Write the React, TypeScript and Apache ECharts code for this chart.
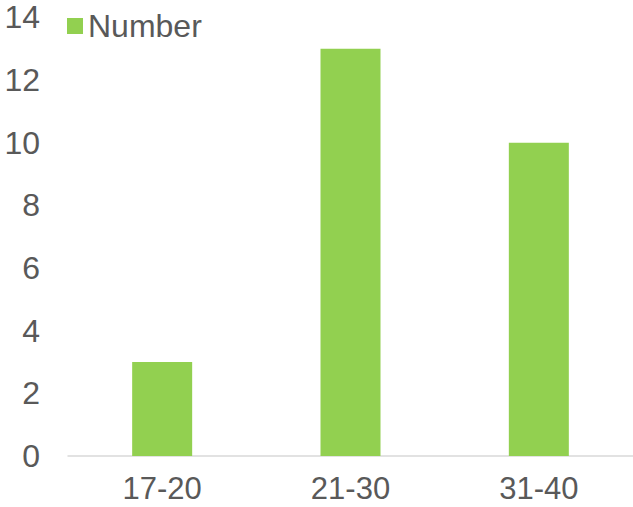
import React, { useEffect, useRef } from "react";
import * as echarts from "echarts";

const categories = ["17-20", "21-30", "31-40"];
const values = [3, 13, 10];
const seriesName = "Number";

export default function App() {
  const ref = useRef<HTMLDivElement>(null);
  useEffect(() => {
    if (!ref.current) return;
    const chart = echarts.init(ref.current, null, { renderer: "svg" });
    chart.setOption({
      animation: false,
      textStyle: { fontFamily: "Liberation Sans, Arial, sans-serif" },
      legend: {
        show: true,
        left: 67,
        top: 10,
        padding: 0,
        itemWidth: 16,
        itemHeight: 16,
        icon: "rect",
        textStyle: { fontSize: 32, color: "#595959", lineHeight: 32 },
        data: [seriesName],
      },
      grid: { left: 68, right: 0, top: 17.3, bottom: 51, containLabel: false },
      xAxis: {
        type: "category",
        data: categories,
        axisLine: { lineStyle: { color: "#D9D9D9", width: 1.5 } },
        axisTick: { show: false },
        axisLabel: { fontSize: 31, color: "#595959", margin: 17, lineHeight: 31 },
      },
      yAxis: {
        type: "value",
        min: 0,
        max: 14,
        interval: 2,
        axisLine: { show: false },
        axisTick: { show: false },
        splitLine: { show: false },
        axisLabel: { fontSize: 32, color: "#595959", margin: 28 },
      },
      series: [
        {
          name: seriesName,
          type: "bar",
          data: values,
          barWidth: 60,
          itemStyle: { color: "#92D050" },
        },
      ],
    });
    return () => chart.dispose();
  }, []);
  return (
    <div
      ref={ref}
      style={{ position: "absolute", left: 0, top: 0, width: 633, height: 507 }}
    />
  );
}
